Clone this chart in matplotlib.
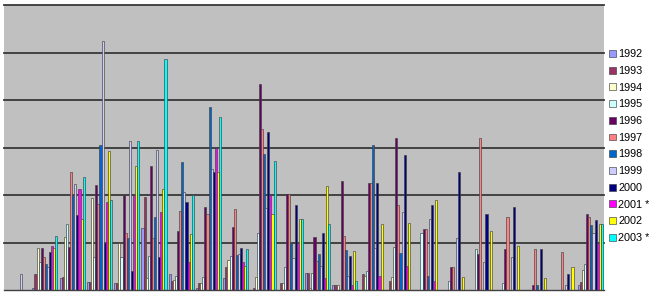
import numpy as np
import matplotlib
matplotlib.use("Agg")
import matplotlib.pyplot as plt

# 22 categories, one value per year (grid unit = 1)
years = ["1992", "1993", "1994", "1995", "1996", "1997",
         "1998", "1999", "2000", "2001 *", "2002", "2003 *"]
colors = ["#9999FF", "#993366", "#FFFFCC", "#CCFFFF", "#660066", "#FF8080",
          "#0066CC", "#CCCCFF", "#000080", "#FF00FF", "#FFFF00", "#00FFFF"]

v1992 = [0, 0.05, 0.25, 0.16, 0.15, 1.30, 0.34, 0.05, 0.25, 0, 0, 0.35, 0.10, 0, 0, 0, 0, 0, 0, 0, 0, 0.10]
v1993 = [0, 0.34, 0.28, 0.16, 0.15, 1.95, 0.20, 0.15, 0.49, 0.05, 0.14, 0.35, 0.10, 0.34, 0.20, 0, 0, 0, 0, 0, 0, 0.16]
v1994 = [0, 0.88, 1.12, 1.93, 0.98, 0.26, 0.21, 0.15, 0.63, 0.27, 0.14, 0.05, 0.10, 0.30, 0.28, 0, 0, 0, 0, 0, 0, 0.42]
v1995 = [0, 0.60, 1.40, 0.70, 0.70, 0.72, 0.30, 0.28, 0.72, 1.19, 0.48, 0.35, 0, 0.39, 0.91, 1.19, 0.20, 0.86, 0.14, 0, 0, 0.54]
v1996 = [0, 0.88, 0.90, 2.22, 2.00, 2.61, 1.25, 1.74, 1.32, 4.34, 2.02, 1.12, 2.30, 2.25, 3.21, 1.29, 0.49, 0.76, 0.86, 0.10, 0, 1.59]
v1997 = [0, 0.69, 2.49, 1.82, 1.19, 1.09, 1.66, 1.59, 1.71, 3.39, 2.02, 0.62, 1.14, 2.25, 1.79, 1.29, 0.49, 3.19, 1.54, 0.86, 0.81, 1.54]
v1998 = [0, 0.54, 2.00, 3.05, 1.09, 1.54, 2.69, 3.85, 0.74, 2.86, 0.98, 0.76, 0.84, 3.06, 0.77, 0.30, 0, 0, 0, 0.10, 0, 1.37]
v1999 = [0.33, 0.49, 2.23, 5.24, 3.14, 2.95, 2.06, 2.55, 0.76, 1.72, 0.67, 0.50, 0.30, 0.88, 1.64, 1.49, 1.09, 0.60, 0.70, 0, 0.10, 1.20]
v2000 = [0, 0.80, 1.58, 0.98, 0.39, 0.70, 1.86, 2.49, 0.88, 3.33, 1.80, 1.19, 0.72, 2.25, 2.84, 1.80, 2.49, 1.59, 1.74, 0.86, 0.34, 1.47]
v2001 = [0, 0.93, 2.12, 1.85, 2.00, 1.64, 0.58, 2.98, 0.60, 2.00, 0.98, 0.25, 0.10, 0.30, 0.50, 0.20, 0, 0, 0, 0, 0, 1.00]
v2002 = [0, 0.88, 1.49, 2.93, 2.61, 2.13, 1.18, 2.49, 0.50, 1.59, 1.49, 2.20, 0.83, 1.40, 1.42, 1.89, 0.28, 1.24, 0.93, 0.25, 0.49, 1.38]
v2003 = [0, 1.14, 2.38, 1.89, 3.14, 4.86, 2.00, 3.64, 0.86, 2.72, 1.49, 1.40, 0.19, 0, 0, 0, 0, 0, 0, 0, 0, 1.38]

series = [v1992, v1993, v1994, v1995, v1996, v1997,
          v1998, v1999, v2000, v2001, v2002, v2003]

fig = plt.figure(figsize=(6.5, 2.94), dpi=100)
ax = fig.add_axes([4 / 650, 4 / 294, 600 / 650, 285 / 294])
ax.set_facecolor("#C0C0C0")

x = np.arange(len(v1992))
w = 1 / 13  # gap width 100 %
for i, (vals, col, lab) in enumerate(zip(series, colors, years)):
    ax.bar(x + (i - 5.5) * w, vals, width=w, color=col,
           edgecolor="#404040", linewidth=0.45, label=lab, zorder=2)

# Excel-style horizontal gridlines
for yv in range(1, 7):
    ax.axhline(yv, color="#383838", linewidth=1.3, zorder=1, clip_on=False)

ax.set_xlim(-0.5, len(x) - 0.5)
ax.set_ylim(0, 6)
ax.set_xticks([])
ax.set_yticks([])
for s in ["top", "left", "right"]:
    ax.spines[s].set_visible(False)
ax.spines["bottom"].set_color("#404040")
ax.spines["bottom"].set_linewidth(1.0)

fig.legend(loc="center left", bbox_to_anchor=(609 / 650, 0.503),
           frameon=False, handlelength=0.6, handleheight=0.6,
           handletextpad=0.25, labelspacing=0.62, borderpad=0,
           borderaxespad=0,
           prop={"family": "Liberation Sans", "size": 7.8})

fig.savefig("out.png", dpi=100)
